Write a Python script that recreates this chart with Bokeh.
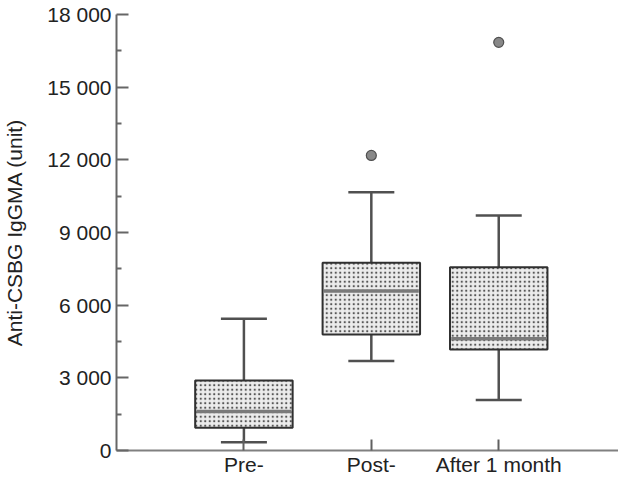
from bokeh.plotting import figure
from bokeh.models import Range1d, FixedTicker, CustomJSTickFormatter
from bokeh.embed import file_html
from bokeh.resources import INLINE

# ---- data ----
categories = ["Pre-", "Post-", "After 1 month"]
whisker_low = [340, 3690, 2090]
q1 = [940, 4790, 4170]
median = [1610, 6580, 4610]
q3 = [2890, 7750, 7570]
whisker_high = [5440, 10660, 9700]
outlier_category = ["Post-", "After 1 month"]
outlier_value = [12180, 16850]
y_ticks = [0, 3000, 6000, 9000, 12000, 15000, 18000]
y_label = "Anti-CSBG IgGMA (unit)"

FONT = "Liberation Sans"
xs = [i + 1 for i in range(len(categories))]
pos = dict(zip(categories, xs))
ox = [pos[c] for c in outlier_category]
BOX_W = 0.765

p = figure(width=618, height=478, output_backend="svg", toolbar_location=None,
           x_range=Range1d(0, 3.94), y_range=Range1d(0, 18000),
           min_border_left=114, min_border_right=0, min_border_top=14,
           min_border_bottom=27)
p.outline_line_color = None
p.grid.visible = False
p.background_fill_color = "white"
p.border_fill_color = "white"

# whiskers
p.segment(x0=xs, y0=q3, x1=xs, y1=whisker_high, line_color="#505050", line_width=2.5)
p.segment(x0=xs, y0=whisker_low, x1=xs, y1=q1, line_color="#505050", line_width=2.5)
p.dash(x=xs, y=whisker_high, size=46, line_color="#505050", line_width=2.5)
p.dash(x=xs, y=whisker_low, size=46, line_color="#505050", line_width=2.5)

# boxes
p.vbar(x=xs, bottom=q1, top=q3, width=BOX_W, fill_color="#ececec",
       hatch_pattern="dot", hatch_color="#555555", hatch_scale=4.5, hatch_weight=1.3,
       line_color="#303030", line_width=2)
# medians
p.segment(x0=[x - BOX_W / 2 + 0.01 for x in xs], y0=median,
          x1=[x + BOX_W / 2 - 0.01 for x in xs], y1=median,
          line_color="#7a7a7a", line_width=3.5)

# outliers
p.scatter(x=ox, y=outlier_value, size=10, fill_color="#888888", line_color="#505050",
          line_width=1.2)

# axes
xa = p.xaxis[0]
xa.ticker = FixedTicker(ticks=xs)
xa.major_label_overrides = {x: c for x, c in zip(xs, categories)}
xa.major_tick_in = 11
xa.major_tick_out = 0
xa.minor_tick_line_color = None
xa.axis_line_color = "#808080"
xa.axis_line_width = 2
xa.major_tick_line_color = "#606060"
xa.major_tick_line_width = 2
xa.major_label_text_font = FONT
xa.major_label_text_font_size = "21px"
xa.major_label_text_color = "#222222"
xa.major_label_standoff = 2

ya = p.yaxis[0]
ya.ticker = FixedTicker(ticks=y_ticks, minor_ticks=[t + 1500 for t in y_ticks[:-1]])
ya.formatter = CustomJSTickFormatter(code="""
    if (tick == 0) return '0';
    const th = Math.floor(tick / 1000);
    const r = String(Math.round(tick % 1000)).padStart(3, '0');
    return th + ' ' + r;
""")
ya.major_tick_in = 12
ya.major_tick_out = 0
ya.minor_tick_in = 5
ya.minor_tick_out = 0
ya.axis_line_color = "#666666"
ya.axis_line_width = 2
ya.major_tick_line_color = "#666666"
ya.major_tick_line_width = 2
ya.minor_tick_line_color = "#666666"
ya.minor_tick_line_width = 2
ya.major_label_text_font = FONT
ya.major_label_text_font_size = "21px"
ya.major_label_text_color = "#222222"
ya.major_label_standoff = 5
ya.axis_label = y_label
ya.axis_label_text_font = FONT
ya.axis_label_text_font_size = "21px"
ya.axis_label_text_font_style = "normal"
ya.axis_label_text_color = "#222222"
ya.axis_label_standoff = 18

open("out.html", "w").write(file_html(p, INLINE))
